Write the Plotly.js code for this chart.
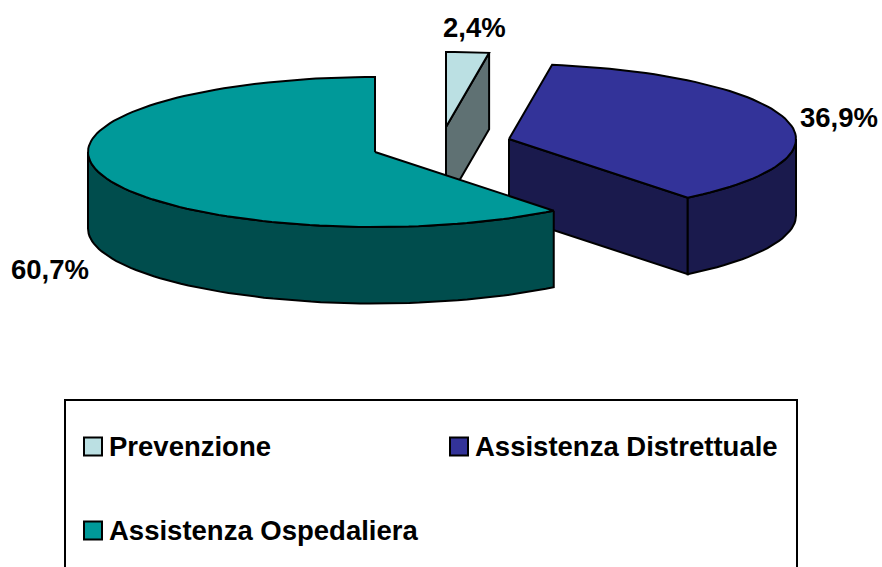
<!DOCTYPE html>
<html>
<head>
<meta charset="utf-8">
<script src="https://cdn.plot.ly/plotly-3.0.1.min.js"></script>
<style>html,body{margin:0;padding:0;background:#fff;overflow:hidden}</style>
</head>
<body>
<div id="chart" style="width:882px;height:567px"></div>
<script>
// Data
const categories = ['Prevenzione', 'Assistenza Distrettuale', 'Assistenza Ospedaliera'];
const values = [2.4, 36.9, 60.7];

// Styles
const topColors = ['#BBE0E3', '#333399', '#009999'];
const sideColors = ['#5F7173', '#1A1A4D', '#004D4D'];
// Layout of the exploded pseudo-3D pie (pixel axis)
const centers = [[446, 127], [509, 139], [375, 152]];
const rx = 287, ry = 75, depth = 76.5;
const labelPos = [[474, 27], [839, 117], [50, 269]];
const swatchPos = [[93, 446.5], [459, 446.5], [93, 530.5]];
const legendTextPos = [[107, 446], [473, 446], [107, 530]];
const fontFam = '"Liberation Sans", Arial, sans-serif';
const labelSize = 27.5, legendSize = 27.5;

const total = values.reduce((a, b) => a + b, 0);
const rim = (c, deg, dy) => {
  const t = deg * Math.PI / 180;
  return [c[0] + rx * Math.sin(t), c[1] - ry * Math.cos(t) + dy];
};
const arc = (c, a, b, dy) => {
  const n = Math.max(2, Math.ceil(Math.abs(b - a) / 2));
  const pts = [];
  for (let i = 0; i <= n; i++) pts.push(rim(c, a + (b - a) * i / n, dy));
  return pts;
};
const poly = (pts, color, name) => ({
  type: 'scatter', mode: 'lines', name,
  x: pts.map(p => p[0]).concat(pts[0][0]),
  y: pts.map(p => p[1]).concat(pts[0][1]),
  fill: 'toself', fillcolor: color,
  line: {color: '#000', width: 2, shape: 'linear'},
  hoverinfo: 'skip', showlegend: false
});

const traces = [];
let start = 0;
values.forEach((v, i) => {
  const end = start + v / total * 360;
  const c = centers[i];
  // Cut face at the slice's end angle, when it faces the viewer
  if (end < 180) {
    const r0 = rim(c, end, 0), r1 = rim(c, end, depth);
    traces.push(poly([c, r0, r1, [c[0], c[1] + depth]], sideColors[i], categories[i]));
  }
  // Outer wall: part of the rim on the front half
  const a = Math.max(start, 90), b = Math.min(end, 270);
  if (b > a) {
    const wall = arc(c, a, b, 0).concat(arc(c, b, a, depth));
    traces.push(poly(wall, sideColors[i], categories[i]));
  }
  // Top face
  traces.push(poly([c].concat(arc(c, start, end, 0)), topColors[i], categories[i]));
  start = end;
});

// Legend swatches
traces.push({
  type: 'scatter', mode: 'markers',
  x: swatchPos.map(p => p[0]), y: swatchPos.map(p => p[1]),
  marker: {symbol: 'square', size: 18, color: topColors, line: {color: '#000', width: 2}},
  hoverinfo: 'skip', showlegend: false
});

const annotations = [];
values.forEach((v, i) => annotations.push({
  x: labelPos[i][0], y: labelPos[i][1], xref: 'x', yref: 'y', showarrow: false,
  text: '<b>' + v.toFixed(1).replace('.', ',') + '%</b>',
  font: {family: fontFam, size: labelSize, color: '#000'}
}));
categories.forEach((t, i) => annotations.push({
  x: legendTextPos[i][0], y: legendTextPos[i][1], xref: 'x', yref: 'y', showarrow: false,
  xanchor: 'left', text: '<b>' + t + '</b>',
  font: {family: fontFam, size: legendSize, color: '#000'}
}));

const layout = {
  width: 882, height: 567,
  margin: {l: 0, r: 0, t: 0, b: 0},
  paper_bgcolor: '#fff', plot_bgcolor: '#fff',
  showlegend: false,
  xaxis: {range: [0, 882], visible: false, fixedrange: true},
  yaxis: {range: [567, 0], visible: false, fixedrange: true},
  shapes: [{type: 'rect', xref: 'x', yref: 'y', x0: 65, x1: 797, y0: 400, y1: 620,
            line: {color: '#000', width: 2}, fillcolor: 'rgba(0,0,0,0)', layer: 'below'}],
  annotations
};
Plotly.newPlot('chart', traces, layout, {displayModeBar: false, staticPlot: true});
</script>
</body>
</html>
